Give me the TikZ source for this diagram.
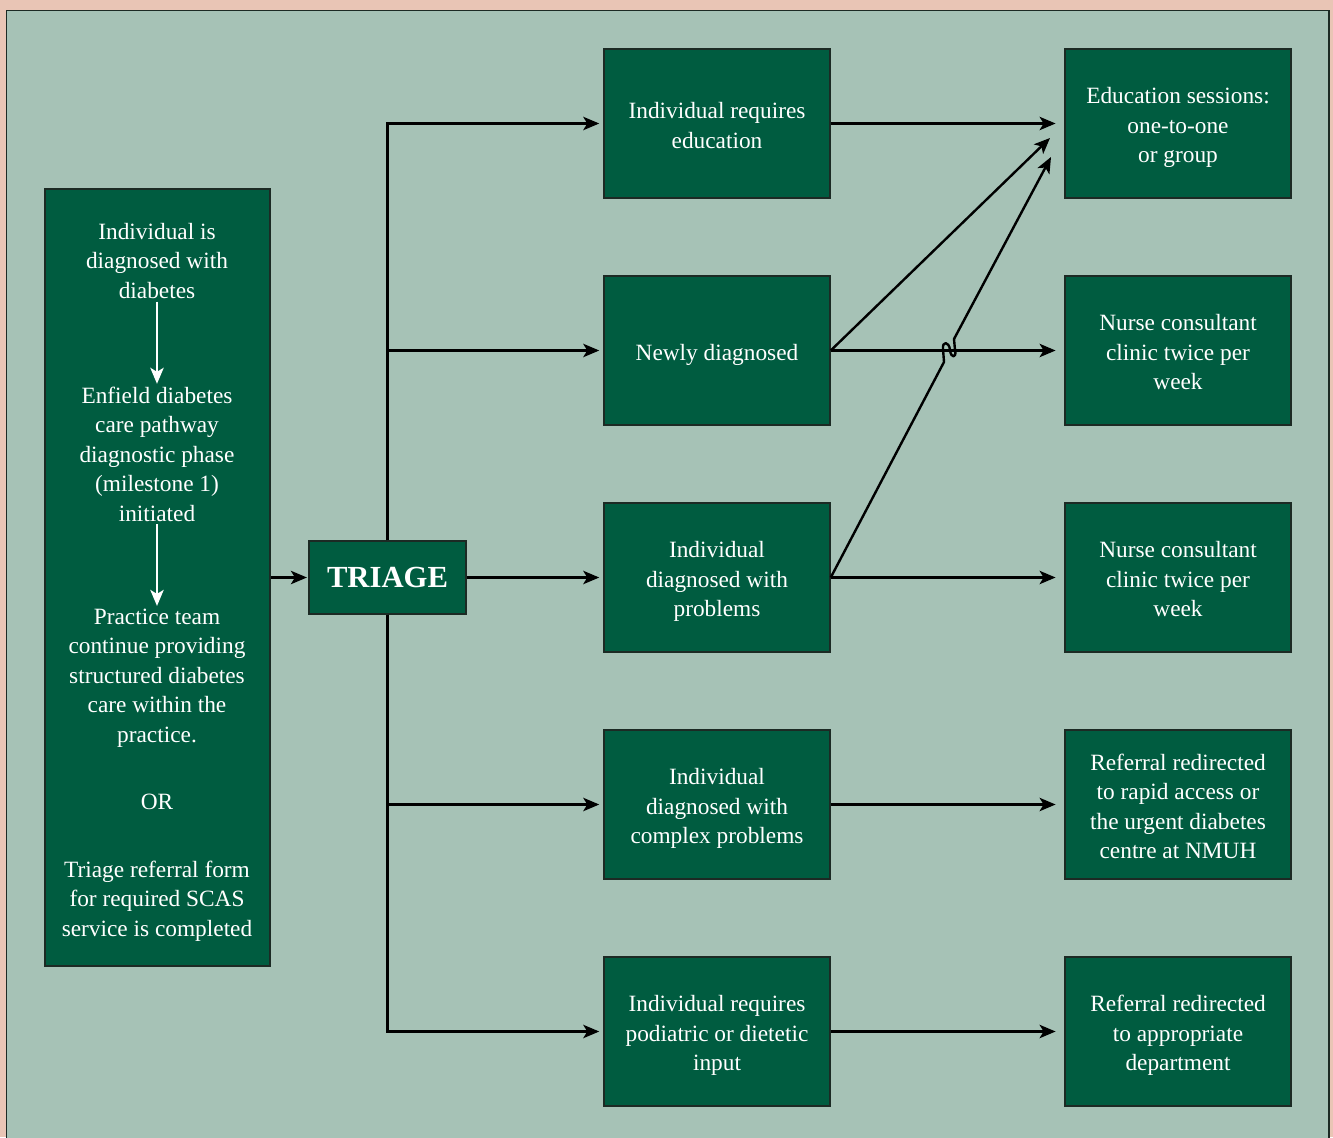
\documentclass[tikz,border=0pt]{standalone}
\usepackage{fontspec}
\setmainfont{Liberation Serif}
\usetikzlibrary{arrows.meta}
\definecolor{pinkbg}{HTML}{E9C5B5}
\definecolor{panel}{HTML}{A6C2B6}
\definecolor{boxg}{HTML}{005C40}
\definecolor{edge}{HTML}{1C2A24}
\newcommand\btext[1]{\raisebox{-3pt}[\height][\depth]{\begin{tabular}{@{}c@{}}#1\end{tabular}}}
\tikzset{
  box/.style={draw=edge, line width=1.1pt, fill=boxg, text=white, align=center,
    minimum width=169.5pt, minimum height=111.75pt, inner sep=2pt,
    font=\fontsize{17.5}{22.1}\selectfont},
  txt/.style={text=white, align=center, inner sep=2pt,
    font=\fontsize{17.5}{22.1}\selectfont},
  arr/.style={draw=black, line width=1.8pt,
    -{Stealth[length=12pt, width=10pt, inset=3pt]}},
  warr/.style={draw=white, line width=1.8pt,
    -{Stealth[length=12pt, width=10pt, inset=3pt]}},
}
\begin{document}
\begin{tikzpicture}[x=0.75pt,y=-0.75pt]
\useasboundingbox (0,0) rectangle (1333,1137);
\fill[pinkbg] (0,0) rectangle (1333,1137);
\draw[edge, fill=panel, line width=1.4pt] (6.5,10.5) rectangle (1329,1145);

% left column
\node[box, minimum width=168.75pt, minimum height=582.75pt] (L) at (157.5,577.5) {};
\node[txt] (t1) at (157,261) {Individual is\\diagnosed with\\diabetes};
\node[txt] (t2) at (157,454) {Enfield diabetes\\care pathway\\diagnostic phase\\(milestone 1)\\initiated};
\node[txt] (t3) at (157,678) {Practice team\\continue providing\\structured diabetes\\care within the\\practice.};
\node[txt] (tor) at (157,802) {OR};
\node[txt] (t4) at (157,901) {Triage referral form\\for required SCAS\\service is completed};
\draw[warr] (t1.south) -- (t2.north);
\draw[warr] (t2.south) -- (t3.north);

% triage
\node[box, minimum width=117.75pt, minimum height=54.75pt,
  font=\fontsize{23}{26}\selectfont\bfseries] (tri) at (387.5,577.5) {TRIAGE};

% middle column
\node[box] (m1) at (717,123.5) {\btext{Individual requires\\education}};
\node[box] (m2) at (717,350.5) {\btext{Newly diagnosed}};
\node[box] (m3) at (717,577.5) {\btext{Individual\\diagnosed with\\problems}};
\node[box] (m4) at (717,804.5) {\btext{Individual\\diagnosed with\\complex problems}};
\node[box] (m5) at (717,1031.5) {\btext{Individual requires\\podiatric or dietetic\\input}};

% right column
\node[box] (r1) at (1178,123.5) {\btext{Education sessions:\\one-to-one\\or group}};
\node[box] (r2) at (1178,350.5) {\btext{Nurse consultant\\clinic twice per\\week}};
\node[box] (r3) at (1178,577.5) {\btext{Nurse consultant\\clinic twice per\\week}};
\node[box] (r4) at (1178,804.5) {\btext{Referral redirected\\to rapid access or\\the urgent diabetes\\centre at NMUH}};
\node[box] (r5) at (1178,1031.5) {\btext{Referral redirected\\to appropriate\\department}};

% connectors
\draw[arr, shorten >=1pt] (L.east) -- (tri.west);
\draw[arr, shorten >=3pt] (tri.east) -- (m3.west);
\draw[arr, shorten >=3pt] (tri.north) |- (m1.west);
\draw[arr, shorten >=3pt] (tri.north) |- (m2.west);
\draw[arr, shorten >=3pt] (tri.south) |- (m4.west);
\draw[arr, shorten >=3pt] (tri.south) |- (m5.west);

\foreach \i in {1,...,5}{
  \draw[arr, shorten >=6.5pt] (m\i.east) -- (r\i.west);
}

\coordinate (d1) at (1050,138);
\coordinate (d2) at (1051,157);
\draw[arr] (m2.east) -- (d1);
\draw[arr, line join=round] (m3.east) -- (944,362) -- (943,349)
  .. controls (942,341) and (949,341) .. (950,350)
  .. controls (951,359) and (957,358) .. (955,350)
  -- (954,339) -- (d2);
\end{tikzpicture}
\end{document}
